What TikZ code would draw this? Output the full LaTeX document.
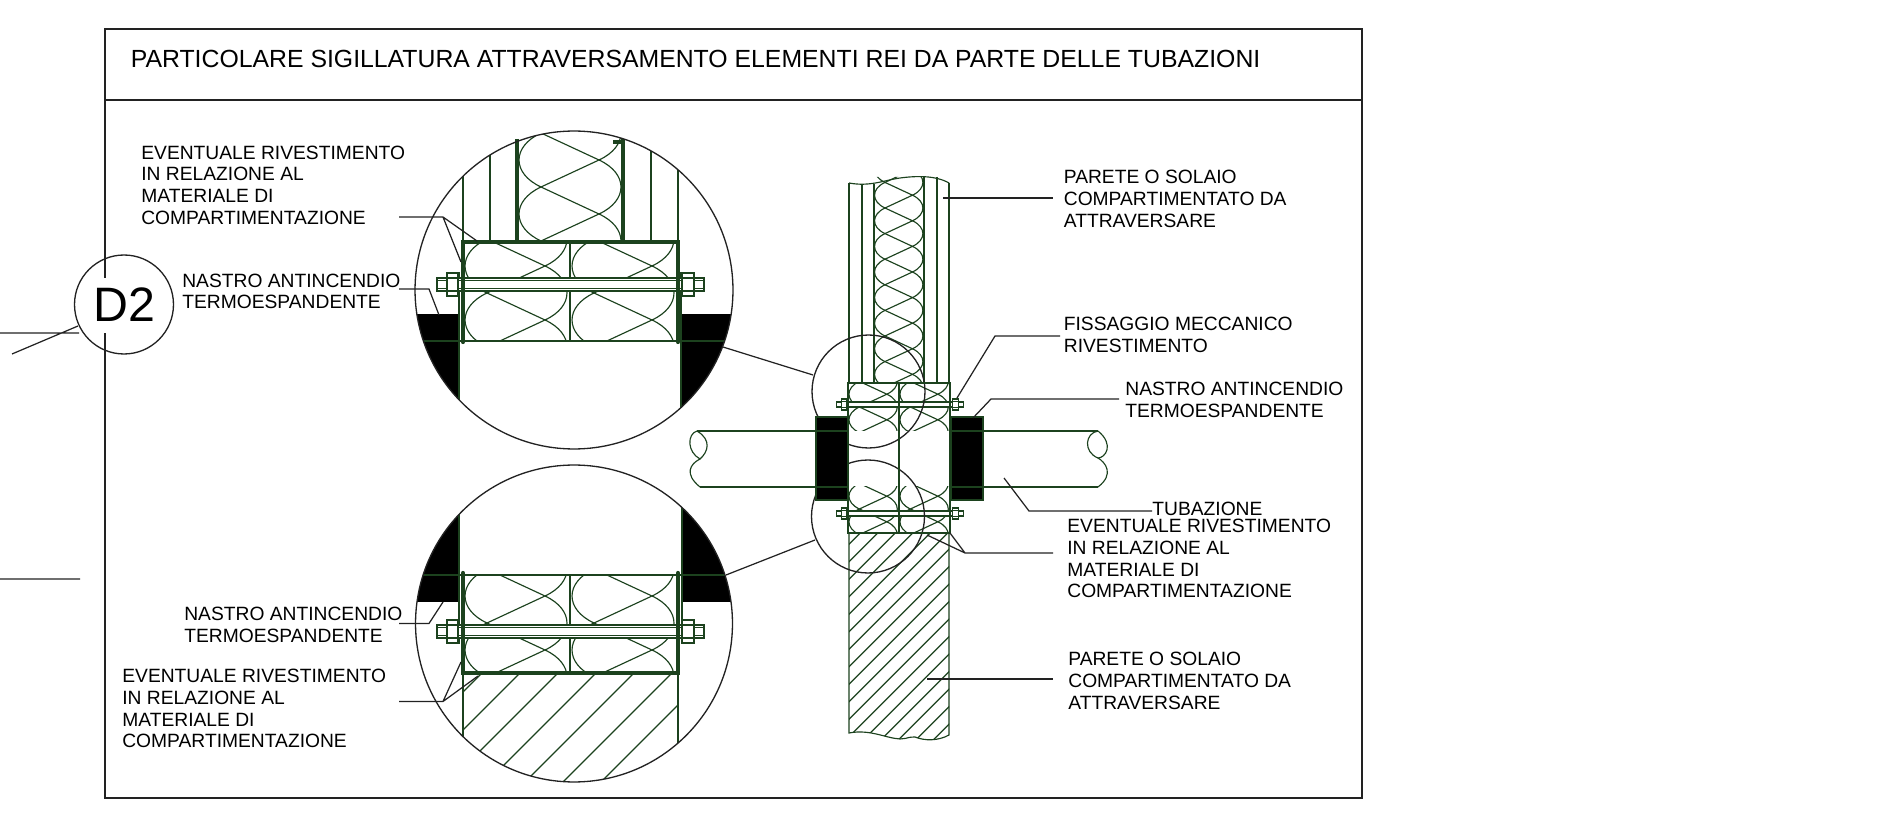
\documentclass[tikz,border=0pt]{standalone}
\usepackage{fontspec}
\setmainfont{Liberation Sans}
\definecolor{dg}{HTML}{1C421E}
\definecolor{ld}{HTML}{222222}
\tikzset{
 thin line/.style={draw=dg,line width=0.65pt},
 thick line/.style={draw=dg,line width=2.4pt},
 mid line/.style={draw=dg,line width=1.2pt},
 leader/.style={draw=ld,line width=0.7pt},
 frameline/.style={draw=ld,line width=0.7pt},
 ring/.style={draw=ld,line width=0.75pt},
 lbl/.style={inner sep=0pt,anchor=north west,align=left,text=black,font=\fontsize{10.95}{12.3}\selectfont},
}
% batt insulation: x0, y of a left crossing, scale, first k, last k
\newcommand{\battcell}[5]{%
 \begin{scope}[shift={(#1,#2)},scale=#3]
 \foreach \k in {#4,...,#5}{
  \draw[thin line] (24,54*\k) -- (82,54*\k+27) -- (24,54*\k+54);
  \draw[thin line] (24,54*\k) .. controls (-5.3,54*\k+13.6) and (-5.3,54*\k+40.4) .. (24,54*\k+54);
  \draw[thin line] (82,54*\k+27) .. controls (111.3,54*\k+40.6) and (111.3,54*\k+67.4) .. (82,54*\k+81);
 }
 \end{scope}}
% bolt: centre x, centre y, scale
\newcommand{\boltset}[3]{%
 \begin{scope}[shift={(#1,#2)},scale=#3]
  \filldraw[thin line,fill=white] (-133.5,-6.5) rectangle (133.5,6.5);
  \draw[thin line] (-133.5,-4) -- (133.5,-4) (-133.5,4) -- (133.5,4);
  \filldraw[thin line,fill=white] (-123.5,-11.5) rectangle (-112.5,11.5);
  \filldraw[thin line,fill=white] (111.5,-11.5) rectangle (123.5,11.5);
  \draw[thin line] (-123.5,-6.5) -- (-112.5,-6.5) (-123.5,6.5) -- (-112.5,6.5);
  \draw[thin line] (111.5,-6.5) -- (123.5,-6.5) (111.5,6.5) -- (123.5,6.5);
 \end{scope}}
\begin{document}
\begin{tikzpicture}[x=0.02cm,y=-0.02cm]
\useasboundingbox[fill=white] (0,0) rectangle (1890,820);
% frame
\coordinate (fa) at (105,29); \coordinate (fb) at (1362,29); \coordinate (fc) at (1362,798); \coordinate (fd) at (105,798);
\coordinate (fe) at (105,278); \coordinate (ff) at (105,333);
\draw[frameline] (fe) -- (fa) -- (fb) -- (fc) -- (fd) -- (ff);
\coordinate (tl) at (105,100); \coordinate (tr) at (1362,100);
\draw[frameline] (tl) -- (tr);
\node[inner sep=0pt,anchor=base west,font=\fontsize{14.12}{16}\selectfont] (title) at (130.5,67.5) {PARTICOLARE SIGILLATURA ATTRAVERSAMENTO ELEMENTI REI DA PARTE DELLE TUBAZIONI};
% D2
\node[circle,ring,minimum size=1.98cm,inner sep=0pt,font=\fontsize{27.5}{30}\selectfont] (d2) at (124,304.5) {D2};
\coordinate (s1) at (0,333); \coordinate (s2) at (79,333);
\coordinate (s3) at (12,354); \coordinate (s4) at (78,326);
\coordinate (s5) at (0,579); \coordinate (s6) at (80,579);
\draw[frameline] (s1) -- (s2) (s3) -- (s4) (s5) -- (s6);

% ===== detail 1 =====
\begin{scope}
 \clip (574,290) circle (159);
 \begin{scope}\clip (517,130) rectangle (623,242); \battcell{517}{187}{1}{-2}{1} \end{scope}
 \begin{scope}\clip (463,242) rectangle (570,341); \battcell{463}{293}{1}{-2}{1} \end{scope}
 \begin{scope}\clip (570,242) rectangle (678,341); \battcell{570}{293}{1}{-2}{1} \end{scope}
 \draw[thin line] (463,130) -- (463,242) (490,130) -- (490,242) (651,130) -- (651,242) (678,130) -- (678,242);
 \fill[black] (400,314) rectangle (459,460);
 \fill[black] (681,314) rectangle (750,460);
 \draw[thin line] (459,272) -- (459,420) (681,272) -- (681,420);
 \draw[thin line] (410,341) -- (740,341);
\end{scope}
\draw[thin line] (570,242) -- (570,341);
\draw[thick line] (517,139) -- (517,242) (623,139) -- (623,242);
\draw[thick line] (613,142) -- (624,142);
\boltset{570.5}{284.5}{1}
\draw[thick line,line cap=round] (463,342) -- (463,242) -- (678,242) -- (678,342);
\node[circle,ring,minimum size=6.36cm,inner sep=0pt] (c1) at (574,290) {};

% ===== detail 2 =====
\begin{scope}
 \clip (574,623.5) circle (158.5);
 \begin{scope}\clip (463,575) rectangle (570,673); \battcell{463}{623}{1}{-2}{1} \end{scope}
 \begin{scope}\clip (570,575) rectangle (678,673); \battcell{570}{623}{1}{-2}{1} \end{scope}
 \begin{scope}\clip (463,673) rectangle (678,790);
  \foreach \c in {1155,1193,1231,1269,1307,1345,1383}{
   \draw[thin line] (\c-673,673) -- (\c-790,790);
  }
 \end{scope}
 \draw[thin line] (463,673) -- (463,790) (678,673) -- (678,790);
 \fill[black] (400,500) rectangle (459,602);
 \fill[black] (682,500) rectangle (750,602);
 \draw[thin line] (459,500) -- (459,644) (682,500) -- (682,644);
 \draw[thin line] (410,575) -- (740,575);
\end{scope}
\draw[thin line] (570,575) -- (570,673);
\boltset{570.5}{631.5}{1}
\draw[thick line,line cap=round] (463,573) -- (463,673) -- (678,673) -- (678,573);
\node[circle,ring,minimum size=6.34cm,inner sep=0pt] (c2) at (574,623.5) {};

% ===== main section =====
\begin{scope}\clip (874,177) -- (900,177) -- (924,177) -- (924,383) -- (874,383) -- cycle;
 \battcell{873.6}{208}{0.474}{-2}{7}
\end{scope}
\draw[thin line] (849,183) .. controls (870,187) and (885,180) .. (900,178) .. controls (915,176) and (935,175) .. (949,183);
\draw[thin line] (849,183) -- (849,383) (862,185) -- (862,383) (937,177) -- (937,383) (949,183) -- (949,383);
\draw[mid line] (874,184) -- (874,383) (924,177) -- (924,383);
% hatched lower wall
\begin{scope}
 \clip (849,533) -- (949,533) -- (949,735) .. controls (938,741) and (925,741) .. (915,737) .. controls (905,737) and (900,740) .. (900,739) .. controls (885,738) and (870,729) .. (849,733) -- cycle;
 \foreach \i in {-8,...,11}{
  \draw[thin line] (1515.7+17.5*\i-525,525) -- (1515.7+17.5*\i-745,745);
 }
\end{scope}
\draw[thin line] (849,533) -- (849,733) .. controls (870,729) and (885,738) .. (900,739) .. controls (905,740) and (905,737) .. (915,737) .. controls (925,741) and (938,741) .. (949,735) -- (949,533);
% box insulation
\begin{scope}\clip (848,383) rectangle (899,431); \battcell{848}{407}{0.474}{-2}{1} \end{scope}
\begin{scope}\clip (899,383) rectangle (950,431); \battcell{899}{407}{0.474}{-2}{1} \end{scope}
\begin{scope}\clip (848,487) rectangle (899,533); \battcell{848}{509}{0.474}{-2}{1} \end{scope}
\begin{scope}\clip (899,487) rectangle (950,533); \battcell{899}{509}{0.474}{-2}{1} \end{scope}
\boltset{900}{404.5}{0.474}
\boltset{900}{513.5}{0.474}
% detail circles
\node[circle,ring,minimum size=2.26cm,inner sep=0pt] (c3) at (868.5,391.5) {};
\node[circle,ring,minimum size=2.26cm,inner sep=0pt] (c4) at (868,516.5) {};
% pipe
\draw[thin line] (899,383) -- (899,533);
\draw[mid line] (848,383) rectangle (950,533);
\fill[black] (816,417) rectangle (848,500);
\fill[black] (951,417) rectangle (983,500);
\draw[thin line] (816,417) rectangle (848,500) (951,417) rectangle (983,500);
\draw[thin line] (697,431) -- (848,431) (950,431) -- (1098,431);
\draw[thin line] (700,487) -- (848,487) (950,487) -- (1098,487);
\draw[thin line] (697,431) .. controls (687,434) and (687,452) .. (700,459) .. controls (708,452) and (712,440) .. (697,431);
\draw[thin line] (700,459) .. controls (690,464) and (684,474) .. (700,487);
\draw[thin line] (1098,431) .. controls (1085,433) and (1083,452) .. (1098,458) .. controls (1105,458) and (1115,445) .. (1098,431);
\draw[thin line] (1098,458) .. controls (1105,462) and (1115,474) .. (1098,487);

% ===== leaders =====
\coordinate (a1) at (399,217); \coordinate (a2) at (443,217); \coordinate (a3) at (477,241); \coordinate (a4) at (461,262);
\draw[leader] (a1) -- (a2) -- (a3) (a2) -- (a4);
\coordinate (b1) at (399,289); \coordinate (b2) at (429,289); \coordinate (b3) at (439,315);
\draw[leader] (b1) -- (b2) -- (b3);
\coordinate (l1) at (723,347); \coordinate (l2) at (813,375);
\draw[leader] (l1) -- (l2);
\coordinate (l3) at (726,575); \coordinate (l4) at (815,540);
\draw[leader] (l3) -- (l4);
\coordinate (e1) at (399,701.5); \coordinate (e2) at (443,701.5); \coordinate (e3) at (478,676); \coordinate (e4) at (461,662);
\draw[leader] (e1) -- (e2) -- (e3) (e2) -- (e4);
\coordinate (g1) at (399,623.5); \coordinate (g2) at (429,623.5); \coordinate (g3) at (443,602);
\draw[leader] (g1) -- (g2) -- (g3);
\coordinate (m1) at (943,198); \coordinate (m2) at (1053,198);
\draw[leader] (m1) -- (m2);
\coordinate (n1) at (1060,336); \coordinate (n2) at (995,336); \coordinate (n3) at (957,398);
\draw[leader] (n1) -- (n2) -- (n3);
\coordinate (o1) at (1119,399); \coordinate (o2) at (991,399); \coordinate (o3) at (973,418);
\draw[leader] (o1) -- (o2) -- (o3);
\coordinate (p1) at (1152,511); \coordinate (p2) at (1029,511); \coordinate (p3) at (1004,478);
\draw[leader] (p1) -- (p2) -- (p3);
\coordinate (q1) at (1053,553); \coordinate (q2) at (965,553); \coordinate (q3) at (950,533); \coordinate (q4) at (927,535);
\draw[leader] (q1) -- (q2) -- (q3) (q2) -- (q4);
\coordinate (r1) at (927,679); \coordinate (r2) at (1053,679);
\draw[leader] (r1) -- (r2);

% ===== labels =====
\node[lbl] (tA) at (141,145.5) {EVENTUALE RIVESTIMENTO\\IN RELAZIONE AL\\MATERIALE DI\\COMPARTIMENTAZIONE};
\node[lbl] (tB) at (182,273.5) {NASTRO ANTINCENDIO\\TERMOESPANDENTE};
\node[lbl] (tC) at (184,607) {NASTRO ANTINCENDIO\\TERMOESPANDENTE};
\node[lbl] (tD) at (122,669) {EVENTUALE RIVESTIMENTO\\IN RELAZIONE AL\\MATERIALE DI\\COMPARTIMENTAZIONE};
\node[lbl] (tE) at (1063.5,170) {PARETE O SOLAIO\\COMPARTIMENTATO DA\\ATTRAVERSARE};
\node[lbl] (tF) at (1063.5,317) {FISSAGGIO MECCANICO\\RIVESTIMENTO};
\node[lbl] (tG) at (1125,382) {NASTRO ANTINCENDIO\\TERMOESPANDENTE};
\node[lbl] (tH) at (1152,502) {TUBAZIONE};
\node[lbl] (tI) at (1067,519) {EVENTUALE RIVESTIMENTO\\IN RELAZIONE AL\\MATERIALE DI\\COMPARTIMENTAZIONE};
\node[lbl] (tJ) at (1068,652) {PARETE O SOLAIO\\COMPARTIMENTATO DA\\ATTRAVERSARE};
\end{tikzpicture}
\end{document}
